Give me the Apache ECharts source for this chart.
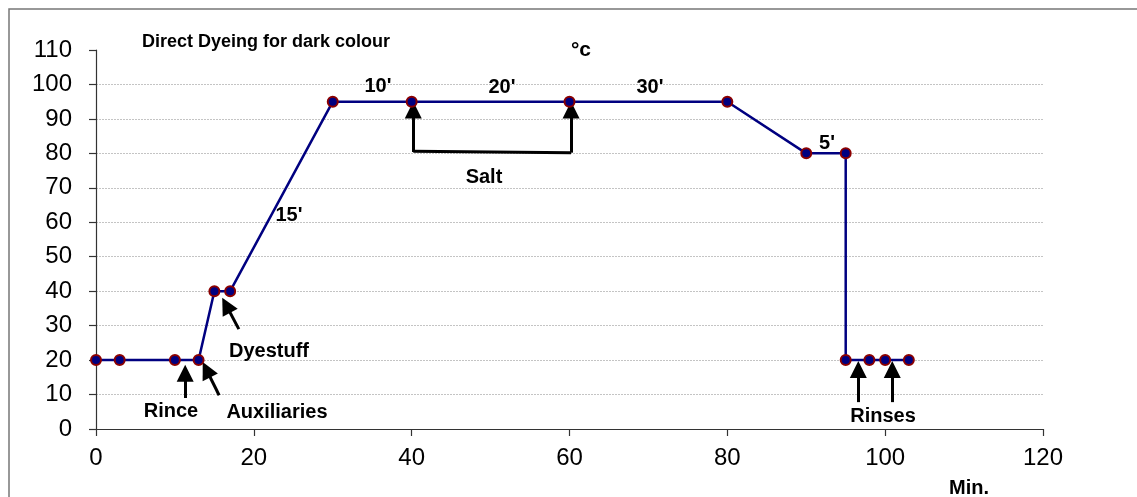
<!DOCTYPE html>
<html>
<head>
<meta charset="utf-8">
<script src="https://cdn.jsdelivr.net/npm/echarts@6/dist/echarts.min.js"></script>
<style>
html,body{margin:0;padding:0;background:#fff;}
#c{width:1137px;height:497px;}
</style>
</head>
<body>
<div id="c"></div>
<script>
var minutes = [0, 3, 10, 13, 15, 17, 30, 40, 60, 80, 90, 95, 95, 98, 100, 103];
var temperature = [20, 20, 20, 20, 40, 40, 95, 95, 95, 95, 80, 80, 20, 20, 20, 20];
var xTicks = [0, 20, 40, 60, 80, 100, 120];
var yTicks = [0, 10, 20, 30, 40, 50, 60, 70, 80, 90, 100, 110];

var FONT = '"Liberation Sans", Arial, sans-serif';
var chart = echarts.init(document.getElementById('c'));

var arrowLines = [
  [{coord: [11.3, 9.0]}, {coord: [11.3, 16.2]}],
  [{coord: [15.6, 9.8]}, {coord: [14.0, 17.2]}],
  [{coord: [18.1, 29.0]}, {coord: [16.5, 35.9]}],
  [{coord: [40.2, 80.4]}, {coord: [40.2, 92.6]}],
  [{coord: [60.2, 80.2]}, {coord: [60.2, 92.6]}],
  [{coord: [40.2, 80.6], symbol: 'none'}, {coord: [60.2, 80.2], symbol: 'none'}],
  [{coord: [96.6, 7.8]}, {coord: [96.6, 17.3]}],
  [{coord: [100.9, 7.8]}, {coord: [100.9, 17.3]}]
];

var texts = [
  ['Direct Dyeing for dark colour', 266, 42, 18],
  ['°c', 581, 50, 21],
  ["10'", 378, 86, 20],
  ["20'", 502, 87, 20],
  ["30'", 650, 87, 20],
  ['Salt', 484, 177, 20],
  ["5'", 827, 143, 20],
  ["15'", 289, 215, 20],
  ['Dyestuff', 269, 351, 20],
  ['Rince', 171, 411, 20],
  ['Auxiliaries', 277, 412, 20],
  ['Rinses', 883, 416, 20],
  ['Min.', 969, 488, 20]
];

var graphics = [{
  type: 'rect', z: 0, silent: true,
  shape: {x: 9, y: 9, width: 1200, height: 600},
  style: {fill: 'none', stroke: '#777', lineWidth: 1.5}
}];
texts.forEach(function (t) {
  graphics.push({
    type: 'text', z: 100, silent: true,
    x: t[1], y: t[2],
    style: {
      text: t[0], fill: '#000',
      font: 'bold ' + t[3] + 'px ' + FONT,
      align: 'center', verticalAlign: 'middle'
    }
  });
});

var splitColors = yTicks.map(function (v, i) {
  return (i === 0 || i === yTicks.length - 1) ? 'rgba(0,0,0,0)' : '#c4c4c4';
});

chart.setOption({
  animation: false,
  backgroundColor: '#fff',
  grid: {left: 96, right: 94, top: 50, bottom: 68, containLabel: false},
  xAxis: {
    type: 'value', min: xTicks[0], max: xTicks[xTicks.length - 1], interval: 20,
    axisLine: {show: true, lineStyle: {color: '#333', width: 1.2}},
    axisTick: {show: true, length: 7, lineStyle: {color: '#333', width: 1.2}},
    axisLabel: {color: '#000', fontSize: 24, fontFamily: FONT, margin: 17},
    splitLine: {show: false}
  },
  yAxis: {
    type: 'value', min: yTicks[0], max: yTicks[yTicks.length - 1], interval: 10,
    axisLine: {show: true, lineStyle: {color: '#333', width: 1.2}},
    axisTick: {show: true, length: 7, lineStyle: {color: '#333', width: 1.2}},
    axisLabel: {color: '#000', fontSize: 24, fontFamily: FONT, margin: 24},
    splitLine: {show: true, lineStyle: {color: splitColors, type: [2, 1], width: 1}}
  },
  series: [{
    type: 'line',
    data: minutes.map(function (m, i) { return [m, temperature[i]]; }),
    symbol: 'circle', symbolSize: 10,
    lineStyle: {color: '#000080', width: 2.5},
    itemStyle: {color: '#000080', borderColor: '#8b0000', borderWidth: 2},
    clip: false,
    z: 5,
    markLine: {
      silent: true, animation: false,
      symbol: ['none', 'triangle'], symbolSize: [17, 17],
      label: {show: false},
      lineStyle: {color: '#000', width: 3, type: 'solid'},
      data: arrowLines
    }
  }],
  graphic: graphics
});
</script>
</body>
</html>
